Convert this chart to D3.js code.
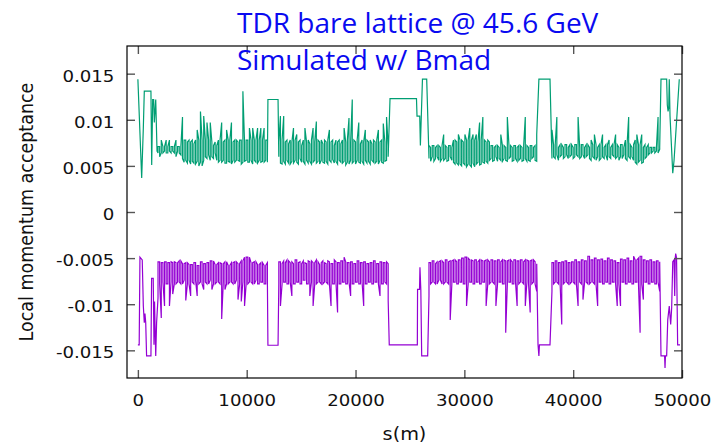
<!DOCTYPE html>
<html>
<head>
<meta charset="utf-8">
<script src="https://cdn.jsdelivr.net/npm/d3@7/dist/d3.min.js"></script>
<style>
  body { margin: 0; background: #ffffff; }
  svg { display: block; }
</style>
</head>
<body>
<svg id="chart" width="715" height="447"></svg>
<script>
// acceptance values below are in units of 1e-3, s in metres
const ACC_UNIT = 1e-3;

const titleLines = ['TDR bare lattice @ 45.6 GeV', 'Simulated w/ Bmad'];
const xTicks = [0, 10000, 20000, 30000, 40000, 50000];
const xTickLabels = ['0', '10000', '20000', '30000', '40000', '50000'];
const yTicks = [-0.015, -0.01, -0.005, 0, 0.005, 0.01, 0.015];
const yTickLabels = ['-0.015', '-0.01', '-0.005', '0', '0.005', '0.01', '0.015'];

// the four noisy arcs: per BAND_STEP bin, the top (hi) and bottom (lo) the trace reaches
const bandStart = [1850, 12950, 26750, 38050];
const BAND_STEP = 150;

// ---- positive side (green)
const greenStart = [[0, 14.4], [350, 3.7], [500, 9.1], [590, 13.1], [1200, 13.1], [1270, 5.1],
    [1360, 12.2], [1450, 12.2], [1510, 9.7], [1640, 12.2], [1760, 6.6]];
const greenHi1 = [7.1, 7.1, 7.8, 7.1, 7.1, 7.8, 7.1, 7.8, 7.1, 7.1, 7.1, 7.8, 7.1, 7.1, 7.1,
    10.3, 7.8, 7.8, 7.6, 7.8, 7.6, 7.8, 7.4, 7.8, 8.9, 7.8, 10.9, 7.8, 10.4, 7.8, 9.7, 7.8, 9.7,
    7.6, 7.2, 7.6, 7.2, 7.8, 7.8, 9.7, 7.6, 7.8, 8.9, 7.8, 7.8, 9.7, 7.6, 7.8, 7.8, 7.6, 7.8,
    7.8, 13.1, 7.6, 7.8, 7.8, 9.1, 7.8, 9.1, 7.8, 7.8, 9.1, 7.8, 9.1, 7.8, 9.1, 7.8, 7.8];
const greenLo1 = [6.4, 6.0, 6.4, 6.4, 6.6, 6.4, 6.4, 6.6, 6.4, 6.6, 6.4, 6.0, 6.6, 6.4, 6.2,
    5.8, 5.4, 5.6, 5.3, 5.6, 5.2, 5.5, 5.3, 5.2, 5.5, 5.0, 5.4, 5.0, 5.6, 6.0, 5.8, 6.2, 5.6,
    6.0, 5.8, 6.4, 5.6, 5.4, 5.6, 5.4, 5.6, 5.3, 5.3, 5.5, 5.4, 5.2, 5.6, 5.4, 5.6, 5.6, 5.5,
    5.2, 5.4, 5.5, 5.6, 5.4, 5.4, 5.6, 5.2, 5.6, 5.4, 5.3, 5.6, 5.4, 5.5, 5.4, 5.6, 5.4];
const greenGap1 = [[11950, 12.2], [12880, 12.2]];
const greenHi2 = [7.6, 10.4, 7.8, 10.4, 7.6, 7.8, 7.4, 7.8, 7.6, 9.1, 7.8, 8.4, 7.6, 7.8, 7.2,
    7.8, 9.1, 7.6, 7.8, 7.4, 7.8, 9.1, 7.6, 9.8, 7.8, 7.6, 7.8, 7.4, 7.8, 7.6, 7.8, 8.9, 7.6,
    7.8, 7.2, 7.8, 7.6, 7.8, 7.4, 7.8, 9.1, 7.6, 7.8, 10.2, 7.6, 12.2, 7.8, 7.6, 7.8, 9.7, 7.4,
    7.8, 7.6, 8.9, 7.8, 7.6, 7.8, 7.4, 7.8, 7.6, 7.8, 8.9, 7.6, 7.8, 9.6, 7.6, 10.3, 7.2];
const greenLo2 = [6.0, 5.3, 5.2, 5.5, 5.2, 5.6, 5.3, 5.2, 5.5, 5.3, 5.6, 5.4, 5.2, 5.8, 5.4,
    5.5, 5.2, 5.6, 5.3, 5.5, 5.2, 5.4, 5.6, 5.3, 5.5, 5.2, 5.6, 5.4, 5.3, 5.5, 5.2, 5.6, 5.4,
    5.7, 5.3, 5.5, 5.2, 5.6, 5.4, 5.3, 5.5, 5.1, 5.4, 5.2, 5.6, 5.3, 5.5, 5.2, 5.6, 5.4, 5.3,
    5.5, 5.2, 5.6, 5.3, 5.5, 5.2, 5.6, 5.4, 5.3, 5.5, 5.2, 5.6, 5.4, 5.3, 5.5, 5.6, 6.0];
const greenGap2 = [[23170, 12.3], [25600, 12.3], [25650, 10.4], [25900, 10.4], [25960, 7.2],
    [26150, 14.4], [26540, 14.4]];
const greenHi3 = [7.2, 7.0, 7.2, 7.2, 7.0, 7.2, 7.2, 7.0, 7.2, 8.4, 7.2, 7.0, 7.2, 7.2, 7.0,
    7.8, 7.8, 7.6, 8.4, 7.8, 7.8, 7.6, 8.4, 7.8, 7.8, 9.1, 7.8, 8.4, 7.8, 8.4, 7.6, 9.7, 7.8,
    10.3, 7.8, 7.6, 7.8, 7.6, 7.2, 7.2, 7.0, 7.2, 7.2, 7.0, 8.4, 7.2, 7.2, 7.0, 10.3, 7.2, 7.2,
    7.0, 7.2, 7.2, 7.0, 7.2, 7.2, 7.0, 7.2, 10.3, 7.2, 7.0, 7.2, 7.2, 7.0, 7.2, 8.4];
const greenLo3 = [5.8, 5.5, 6.0, 5.5, 5.8, 6.0, 5.6, 5.5, 5.8, 5.6, 5.8, 5.5, 5.6, 6.0, 5.6,
    5.4, 5.2, 5.3, 5.1, 5.2, 5.0, 5.3, 5.1, 4.9, 5.2, 5.1, 4.9, 5.3, 4.9, 5.2, 5.4, 5.1, 5.2,
    5.4, 5.3, 5.5, 5.3, 5.6, 5.8, 5.5, 5.6, 6.0, 5.5, 5.8, 5.6, 5.5, 5.8, 5.6, 5.5, 5.8, 6.0,
    5.5, 5.6, 5.8, 5.5, 5.6, 5.8, 5.5, 5.6, 5.8, 5.5, 5.6, 5.5, 5.8, 6.0, 5.6, 5.5];
const greenGap3 = [[36850, 14.4], [37870, 14.4]];
const greenHi4 = [8.9, 7.3, 7.3, 10.3, 7.0, 7.3, 7.3, 7.0, 7.3, 7.3, 7.0, 7.3, 7.3, 7.0, 7.3,
    7.3, 10.3, 7.0, 7.3, 7.3, 7.0, 7.3, 7.3, 7.0, 7.8, 7.3, 8.4, 7.3, 7.0, 7.3, 7.3, 8.4, 7.0,
    7.3, 7.3, 7.8, 7.0, 7.3, 7.3, 8.4, 7.3, 7.0, 7.3, 7.3, 7.0, 7.8, 7.3, 10.3, 7.3, 7.0, 7.3,
    7.8, 8.4, 7.3, 7.3, 8.4, 7.0, 7.3, 7.0, 7.3, 7.0, 7.0, 7.0, 7.0, 7.0, 10.3, 7.0];
const greenLo4 = [5.8, 6.0, 5.8, 6.2, 5.6, 6.0, 6.2, 5.8, 6.0, 6.2, 5.8, 6.0, 6.2, 5.8, 6.0,
    6.2, 6.0, 5.8, 6.0, 6.2, 5.8, 6.0, 6.2, 5.8, 5.6, 6.0, 5.8, 5.6, 6.0, 5.6, 5.8, 6.0, 5.8,
    6.2, 5.6, 6.0, 5.8, 6.2, 6.0, 5.8, 6.0, 5.6, 6.0, 5.8, 6.2, 5.8, 5.6, 6.0, 5.8, 6.0, 5.6,
    5.4, 5.2, 5.4, 5.6, 5.3, 5.4, 5.8, 6.0, 6.2, 6.4, 6.4, 6.6, 6.4, 6.6, 6.4, 6.8];
const greenEnd = [[48070, 14.4], [48590, 14.4], [48650, 11.6], [48720, 10.9], [48780, 11.3],
    [48830, 14.4], [48900, 10.4], [49150, 4.2], [49270, 5.6], [49750, 14.4]];

// ---- negative side (purple)
const purpleStart = [[0, -14.4], [120, -14.4], [190, -4.9], [400, -5.2], [500, -10.2], [590, -12.0],
    [650, -11.0], [720, -12.0], [800, -15.6], [1200, -15.6], [1260, -7.2], [1410, -7.2],
    [1480, -14.4], [1530, -9.7], [1640, -15.6], [1720, -12.0]];
const purpleHi1 = [-5.4, -5.4, -5.5, -5.5, -5.4, -5.4, -5.5, -5.5, -5.4, -5.5, -5.4, -5.5, -5.5,
    -5.3, -5.3, -5.6, -5.6, -5.5, -5.5, -5.7, -5.7, -5.7, -5.5, -5.5, -5.8, -5.8, -5.4, -5.4,
    -5.6, -5.6, -5.5, -5.5, -5.3, -5.3, -5.3, -5.7, -5.7, -5.5, -5.5, -5.6, -5.6, -5.4, -5.4,
    -5.8, -5.8, -5.5, -5.5, -5.4, -5.4, -5.6, -5.6, -5.3, -5.3, -4.9, -4.9, -4.9, -4.9, -5.5,
    -5.5, -5.4, -5.4, -5.7, -5.7, -5.5, -5.5, -5.8, -5.8, -5.5];
const purpleLo1 = [-9.3, -7.8, -11.5, -7.6, -10.2, -7.8, -7.8, -10.2, -7.6, -8.9, -7.8, -7.8,
    -7.6, -7.6, -7.8, -7.8, -7.4, -9.6, -7.8, -7.8, -9.1, -7.6, -7.8, -7.4, -9.1, -7.8, -7.6,
    -7.8, -8.4, -7.6, -7.8, -7.8, -7.4, -8.4, -7.8, -7.8, -7.6, -7.6, -7.8, -11.6, -7.6, -8.4,
    -7.8, -7.8, -7.6, -7.6, -7.8, -7.8, -7.4, -9.5, -7.8, -9.7, -7.6, -10.2, -7.8, -7.8, -7.6,
    -7.6, -7.8, -7.8, -7.4, -7.8, -7.8, -7.6, -7.6, -7.8, -7.8, -7.4];
const purpleGap1 = [[11950, -14.45], [12880, -14.45]];
const purpleHi2 = [-5.4, -5.4, -5.6, -5.3, -5.5, -5.2, -5.3, -5.5, -5.4, -5.6, -5.2, -5.2, -5.5,
    -5.4, -5.6, -5.3, -5.5, -5.6, -5.3, -5.4, -5.3, -5.5, -5.5, -5.2, -5.4, -5.7, -5.5, -5.3,
    -5.5, -5.6, -5.3, -5.4, -5.6, -5.6, -5.2, -5.4, -5.5, -5.5, -5.3, -5.3, -4.9, -5.4, -5.5,
    -5.5, -5.4, -5.4, -5.6, -5.6, -5.3, -5.3, -5.5, -5.5, -5.4, -5.4, -5.6, -5.6, -5.5, -5.5,
    -5.3, -5.3, -5.6, -5.6, -5.4, -5.4, -5.5, -5.5, -5.4, -5.6];
const purpleLo2 = [-7.8, -10.2, -7.8, -7.6, -7.6, -7.8, -7.8, -7.6, -9.1, -7.8, -7.8, -7.6, -7.6,
    -7.8, -7.8, -7.4, -7.4, -7.8, -7.8, -9.1, -7.6, -10.2, -7.8, -7.8, -7.6, -7.6, -7.8, -7.8,
    -7.6, -7.6, -7.8, -7.8, -10.2, -7.8, -7.8, -7.6, -10.9, -7.8, -7.8, -7.6, -7.6, -7.8, -7.8,
    -7.6, -9.1, -7.8, -7.8, -7.6, -7.6, -7.8, -7.8, -7.6, -10.2, -7.8, -7.8, -7.6, -7.6, -7.8,
    -7.8, -7.6, -7.6, -7.8, -9.1, -7.8, -7.8, -7.6, -7.8, -9.6];
const purpleGap2 = [[23100, -14.4], [25680, -14.4], [25700, -8.4], [25880, -8.4], [25920, -6.0],
    [26000, -8.4], [26080, -15.6], [26630, -15.6]];
const purpleHi3 = [-5.5, -5.5, -5.3, -5.3, -5.6, -5.4, -5.4, -5.3, -5.3, -5.5, -5.2, -5.2, -5.4,
    -5.3, -5.3, -5.2, -5.2, -5.4, -5.2, -5.2, -5.0, -5.0, -4.9, -4.9, -5.0, -5.2, -5.2, -5.3,
    -5.2, -5.2, -5.4, -5.2, -5.2, -5.3, -5.3, -5.2, -5.2, -5.4, -5.2, -5.2, -5.3, -5.3, -5.2,
    -5.2, -5.4, -5.2, -5.2, -5.3, -5.3, -5.2, -5.2, -5.4, -5.2, -5.2, -5.3, -5.3, -5.2, -5.2,
    -5.4, -5.2, -5.2, -5.3, -5.3, -5.2, -5.2, -5.4, -5.6];
const purpleLo3 = [-9.1, -7.8, -7.6, -7.6, -7.8, -7.8, -7.4, -7.4, -7.8, -7.8, -7.6, -7.6, -7.8,
    -11.7, -7.8, -7.6, -7.6, -7.8, -7.8, -7.6, -7.6, -7.8, -7.8, -10.2, -7.8, -7.6, -7.6, -7.8,
    -7.8, -7.6, -7.6, -7.8, -7.8, -7.6, -7.6, -10.2, -7.8, -7.8, -7.6, -7.6, -7.8, -10.2, -7.8,
    -7.6, -7.6, -7.8, -7.8, -13.1, -7.8, -7.6, -7.6, -7.8, -7.8, -7.6, -10.2, -7.8, -7.6, -7.6,
    -7.8, -10.2, -7.6, -7.8, -10.9, -7.8, -7.6, -7.8, -8.6];
const purpleGap3 = [[36770, -14.4], [36850, -15.6], [36900, -14.4], [37870, -14.4]];
const purpleHi4 = [-5.5, -5.5, -5.3, -5.3, -5.5, -5.5, -5.4, -5.4, -5.3, -5.3, -5.5, -5.5, -5.4,
    -5.4, -5.2, -5.2, -5.4, -5.4, -5.2, -5.2, -5.3, -5.3, -4.8, -4.8, -5.2, -5.2, -5.0, -5.0,
    -5.2, -5.2, -5.1, -5.1, -5.3, -5.3, -5.0, -5.0, -5.2, -5.2, -5.3, -5.3, -5.5, -5.5, -5.1,
    -5.1, -5.2, -5.2, -5.0, -5.0, -5.3, -5.3, -4.8, -5.2, -5.2, -5.0, -4.8, -4.8, -5.2, -5.2,
    -5.3, -5.3, -5.2, -5.2, -5.4, -5.4, -5.3, -5.3, -5.4];
const purpleLo4 = [-8.6, -7.8, -7.6, -7.6, -7.8, -7.8, -12.2, -7.8, -7.6, -7.6, -7.8, -7.8, -7.6,
    -7.6, -7.8, -7.8, -10.2, -7.6, -7.8, -9.5, -7.6, -7.6, -7.8, -7.8, -7.6, -7.6, -7.8, -7.8,
    -10.2, -7.6, -7.6, -7.8, -7.8, -7.6, -7.6, -7.8, -7.8, -7.6, -7.6, -7.8, -10.2, -7.8, -10.2,
    -7.6, -7.6, -7.8, -7.8, -7.6, -7.6, -7.8, -7.8, -7.6, -7.6, -7.8, -13.1, -7.8, -9.5, -7.6,
    -7.6, -7.8, -7.8, -7.6, -7.6, -7.8, -7.8, -7.6, -8.6];
const purpleEnd = [[48070, -15.6], [48400, -15.6], [48440, -16.9], [48480, -15.6], [48590, -15.6],
    [48690, -11.7], [48830, -10.2], [48960, -12.2], [49050, -10.4], [49150, -5.4], [49270, -5.2],
    [49330, -9.1], [49380, -5.0], [49420, -4.5], [49500, -5.0], [49600, -14.4], [49820, -14.4]];

// each bin is drawn as a vertical stroke from lo to hi, alternating direction
function bandPoints(hi, lo, start) {
    const pts = [];
    hi.forEach((h, i) => {
        const s = start + i * BAND_STEP;
        if (i % 2 === 0) pts.push([s, lo[i]], [s, h]);
        else pts.push([s, h], [s, lo[i]]);
    });
    return pts;
}

function buildSeries(start, bands, gaps, end) {
    let pts = [...start];
    bands.forEach(([hi, lo], i) => {
        pts = pts.concat(bandPoints(hi, lo, bandStart[i]));
        if (gaps[i]) pts = pts.concat(gaps[i]);
    });
    return pts.concat(end).map(([s, v]) => ({ s, v: v * ACC_UNIT }));
}

const series = [
    {
        color: '#009e73',
        data: buildSeries(greenStart,
            [[greenHi1, greenLo1], [greenHi2, greenLo2], [greenHi3, greenLo3], [greenHi4, greenLo4]],
            [greenGap1, greenGap2, greenGap3], greenEnd),
    },
    {
        color: '#9400d3',
        data: buildSeries(purpleStart,
            [[purpleHi1, purpleLo1], [purpleHi2, purpleLo2], [purpleHi3, purpleLo3], [purpleHi4, purpleLo4]],
            [purpleGap1, purpleGap2, purpleGap3], purpleEnd),
    },
];

const margin = { top: 46, right: 33, bottom: 69, left: 127 };
const W = 715, H = 447;
const width = W - margin.left - margin.right;
const height = H - margin.top - margin.bottom;
const TICK_FONT = '16.5px "DejaVu Sans", sans-serif';
const STRETCH = 'scale(1.1,1)';

const svg = d3.select('#chart');
const g = svg.append('g').attr('transform', `translate(${margin.left},${margin.top})`);

const x = d3.scaleLinear().domain([-1000, 50000]).range([0, width]);
const y = d3.scaleLinear().domain([-0.018, 0.018]).range([height, 0]);

// series
const line = d3.line().x(d => x(d.s)).y(d => y(d.v));
g.selectAll('path.series')
    .data(series)
    .enter()
    .append('path')
    .attr('class', 'series')
    .attr('fill', 'none')
    .attr('stroke', d => d.color)
    .attr('stroke-width', 1.2)
    .attr('d', d => line(d.data));

// axes, ticks pointing inwards, mirrored on top/right
function styleAxis(sel) {
    sel.select('.domain').remove();
    sel.selectAll('.tick line').attr('stroke', '#555').attr('stroke-width', 1.4);
    sel.selectAll('.tick text').style('font', TICK_FONT).attr('fill', '#111');
}

g.append('g')
    .attr('transform', `translate(0,${height})`)
    .call(d3.axisBottom(x).tickValues(xTicks).tickSize(-8).tickPadding(0)
        .tickFormat((d, i) => xTickLabels[i]))
    .call(styleAxis)
    .call(a => a.selectAll('.tick text').attr('y', 28.5).attr('dy', 0).attr('transform', STRETCH));

g.append('g')
    .call(d3.axisTop(x).tickValues(xTicks).tickSize(-8).tickFormat(''))
    .call(styleAxis);

g.append('g')
    .call(d3.axisLeft(y).tickValues(yTicks).tickSize(-8).tickPadding(0)
        .tickFormat((d, i) => yTickLabels[i]))
    .call(styleAxis)
    .call(a => a.selectAll('.tick text').attr('x', -11.5).attr('dy', '0.46em').attr('transform', STRETCH));

g.append('g')
    .attr('transform', `translate(${width},0)`)
    .call(d3.axisRight(y).tickValues(yTicks).tickSize(-8).tickFormat(''))
    .call(styleAxis);

// frame
g.append('rect')
    .attr('width', width)
    .attr('height', height)
    .attr('fill', 'none')
    .attr('stroke', '#000')
    .attr('stroke-width', 1.2);

// axis labels
svg.append('text')
    .attr('transform', `translate(${margin.left + width / 2},440) ${STRETCH}`)
    .attr('text-anchor', 'middle')
    .style('font', '17.5px "DejaVu Sans", sans-serif')
    .attr('fill', '#111')
    .text('s(m)');

svg.append('text')
    .attr('transform', `translate(33,${margin.top + height / 2}) ${STRETCH} rotate(-90)`)
    .attr('text-anchor', 'middle')
    .style('font', '17.5px "DejaVu Sans", sans-serif')
    .attr('fill', '#111')
    .text('Local momentum acceptance');

// title
svg.selectAll('text.title')
    .data(titleLines)
    .enter()
    .append('text')
    .attr('class', 'title')
    .attr('x', 237)
    .attr('y', (d, i) => 33 + i * 37)
    .style('font', '28px "Open Sans", sans-serif')
    .attr('fill', '#0a0af0')
    .text(d => d);
</script>
</body>
</html>
